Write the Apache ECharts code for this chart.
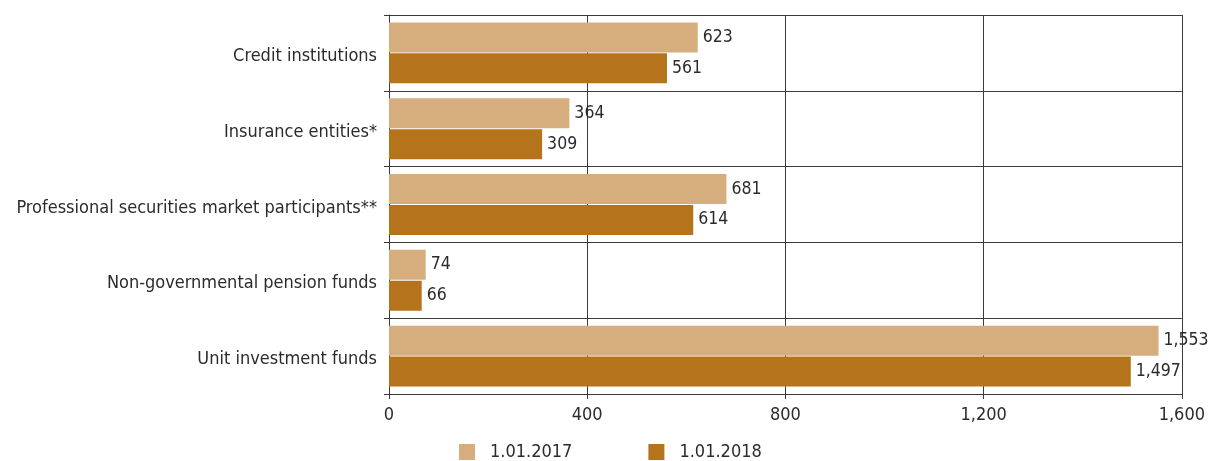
<!DOCTYPE html>
<html>
<head>
<meta charset="utf-8">
<script src="https://cdn.jsdelivr.net/npm/echarts@6/dist/echarts.min.js"></script>
<style>
  html, body { margin: 0; padding: 0; background: #ffffff; }
  #chart { width: 1208px; height: 461px; }
</style>
</head>
<body>
<div id="chart"></div>
<script>
// Categories listed top to bottom
const categories = [
  'Credit institutions',
  'Insurance entities*',
  'Professional securities market participants**',
  'Non-governmental pension funds',
  'Unit investment funds'
];
const seriesNames = ['1.01.2017', '1.01.2018'];
const values2017 = [623, 364, 681, 74, 1553];
const values2018 = [561, 309, 614, 66, 1497];
const xTicks = [0, 400, 800, 1200, 1600];

const FONT = '"DejaVu Sans Condensed", "Liberation Sans", sans-serif';
const TEXT = '#2b2b2b';
const LINE = '#3a3a3a';
const fmt = v => Number(v).toLocaleString('en-US');

const chart = echarts.init(document.getElementById('chart'), null, { renderer: 'canvas' });

const labelStyle = {
  show: true,
  position: 'right',
  distance: 5,
  color: TEXT,
  fontFamily: FONT,
  fontSize: 17.5,
  formatter: p => fmt(p.value)
};

chart.setOption({
  animation: false,
  backgroundColor: '#ffffff',
  grid: { left: 389, right: 25, top: 15, bottom: 67, containLabel: false },
  legend: {
    top: 443,
    left: 459,
    padding: 0,
    itemWidth: 16,
    itemHeight: 16,
    itemGap: 76,
    icon: 'rect',
    textStyle: { color: TEXT, fontFamily: FONT, fontSize: 18, lineHeight: 16, padding: [0, 0, 0, 10] },
    data: seriesNames
  },
  xAxis: {
    type: 'value',
    min: xTicks[0],
    max: xTicks[xTicks.length - 1],
    interval: 400,
    axisLine: { show: true, lineStyle: { color: LINE, width: 1 } },
    axisTick: { show: true, length: 5, lineStyle: { color: LINE } },
    splitLine: { show: true, lineStyle: { color: LINE, width: 1 } },
    axisLabel: { color: TEXT, fontFamily: FONT, fontSize: 18, margin: 12, formatter: v => fmt(v) }
  },
  yAxis: {
    type: 'category',
    inverse: true,
    data: categories,
    axisLine: { show: true, lineStyle: { color: LINE, width: 1 } },
    axisTick: { show: true, length: 5, lineStyle: { color: LINE } },
    splitLine: { show: true, lineStyle: { color: LINE, width: 1 } },
    axisLabel: {
      margin: 12,
      formatter: v => '{c|' + v + '}',
      rich: {
        c: { color: TEXT, fontFamily: FONT, fontSize: 18, padding: [7, 0, 0, 0] }
      }
    }
  },
  series: [
    {
      name: seriesNames[0],
      type: 'bar',
      data: values2017,
      barWidth: 30,
      barGap: '3%',
      itemStyle: { color: '#D6AE7E' },
      label: labelStyle
    },
    {
      name: seriesNames[1],
      type: 'bar',
      data: values2018,
      barWidth: 30,
      barGap: '3%',
      itemStyle: { color: '#B5741C' },
      label: labelStyle
    }
  ]
});
</script>
</body>
</html>
